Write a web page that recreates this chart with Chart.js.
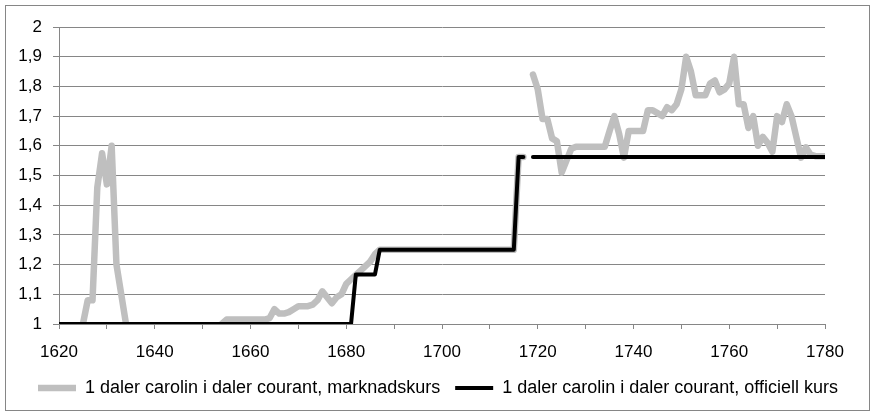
<!DOCTYPE html>
<html>
<head>
<meta charset="utf-8">
<script src="https://cdn.jsdelivr.net/npm/chart.js@4.4.1/dist/chart.umd.min.js"></script>
<style>
html,body{margin:0;padding:0;background:#fff;}
#wrap{position:absolute;left:0;top:0;width:876px;height:416px;}
</style>
</head>
<body>
<div id="wrap"><canvas id="c" width="876" height="416"></canvas></div>
<script>
// ---- DATA ----
const firstYear = 1620, lastYear = 1780;
const years = [];
for (let y = firstYear; y <= lastYear; y++) years.push(y);

const seriesNames = [
  "1 daler carolin i daler courant, marknadskurs",
  "1 daler carolin i daler courant, officiell kurs"
];

// market rate, 1620..1780 (null = no value)
const market = [
  null, null, null, null, null,                          // 1620-1624
  1.00, 1.08, 1.08, 1.46, 1.575, 1.47, 1.60, 1.20, 1.10, 1.00, // 1625-1634
  null, null, null, null, null, null, null, null, null, null,  // 1635-1644
  null, null, null, null, null, null, null, null, null,        // 1645-1653
  1.00,                                                   // 1654
  1.015, 1.015, 1.015, 1.015, 1.015, 1.015, 1.015, 1.015, 1.015, // 1655-1663
  1.02, 1.05, 1.035, 1.035, 1.04, 1.05, 1.06, 1.06, 1.06, 1.065, // 1664-1673
  1.08, 1.11, 1.09, 1.07, 1.09, 1.10, 1.135, 1.15, 1.165, 1.18,  // 1674-1683
  1.195, 1.21, 1.235,                                     // 1684-1686
  1.25, 1.25, 1.25, 1.25, 1.25, 1.25, 1.25, 1.25, 1.25, 1.25, // 1687-1696
  1.25, 1.25, 1.25, 1.25, 1.25, 1.25, 1.25, 1.25, 1.25, 1.25, // 1697-1706
  1.25, 1.25, 1.25, 1.25, 1.25, 1.25, 1.25, 1.25, 1.25,       // 1707-1715
  1.5625, 1.5625,                                         // 1716-1717
  null,                                                   // 1718
  1.84, 1.79, 1.69, 1.69, 1.625, 1.615, 1.51, 1.55, 1.59, 1.597, // 1719-1728
  1.597, 1.597, 1.597, 1.597, 1.597, 1.597, 1.65, 1.70, 1.64, 1.56, // 1729-1738
  1.65, 1.65, 1.65, 1.65, 1.72, 1.72, 1.71, 1.70, 1.73, 1.72, // 1739-1748
  1.74, 1.79, 1.90, 1.85, 1.77, 1.77, 1.77, 1.81, 1.82, 1.78, // 1749-1758
  1.79, 1.81, 1.90, 1.74, 1.74, 1.66, 1.70, 1.60, 1.63, 1.61, // 1759-1768
  1.58, 1.70, 1.68, 1.74, 1.70, 1.63, 1.56, 1.595, 1.57, 1.565, // 1769-1778
  1.565, 1.565                                            // 1779-1780
];

// official rate, 1620..1780
const official = [
  1, 1, 1, 1, 1, 1, 1, 1, 1, 1,   // 1620-1629
  1, 1, 1, 1, 1, 1, 1, 1, 1, 1,   // 1630-1639
  1, 1, 1, 1, 1, 1, 1, 1, 1, 1,   // 1640-1649
  1, 1, 1, 1, 1, 1, 1, 1, 1, 1,   // 1650-1659
  1, 1, 1, 1, 1, 1, 1, 1, 1, 1,   // 1660-1669
  1, 1, 1, 1, 1, 1, 1, 1, 1, 1,   // 1670-1679
  1, 1,                           // 1680-1681
  1.1667, 1.1667, 1.1667, 1.1667, 1.1667, // 1682-1686
  1.25, 1.25, 1.25, 1.25, 1.25, 1.25, 1.25, 1.25, 1.25, 1.25, // 1687-1696
  1.25, 1.25, 1.25, 1.25, 1.25, 1.25, 1.25, 1.25, 1.25, 1.25, // 1697-1706
  1.25, 1.25, 1.25, 1.25, 1.25, 1.25, 1.25, 1.25, 1.25,       // 1707-1715
  1.5625, 1.5625,                 // 1716-1717
  null,                           // 1718
  1.5625, 1.5625, 1.5625, 1.5625, 1.5625, 1.5625, 1.5625, 1.5625, 1.5625, 1.5625, // 1719-1728
  1.5625, 1.5625, 1.5625, 1.5625, 1.5625, 1.5625, 1.5625, 1.5625, 1.5625, 1.5625, // 1729-1738
  1.5625, 1.5625, 1.5625, 1.5625, 1.5625, 1.5625, 1.5625, 1.5625, 1.5625, 1.5625, // 1739-1748
  1.5625, 1.5625, 1.5625, 1.5625, 1.5625, 1.5625, 1.5625, 1.5625, 1.5625, 1.5625, // 1749-1758
  1.5625, 1.5625, 1.5625, 1.5625, 1.5625, 1.5625, 1.5625, 1.5625, 1.5625, 1.5625, // 1759-1768
  1.5625, 1.5625, 1.5625, 1.5625, 1.5625, 1.5625, 1.5625, 1.5625, 1.5625, 1.5625, // 1769-1778
  1.5625, 1.5625                  // 1779-1780
];

const yMin = 1, yMax = 2, yStep = 0.1;
const xStep = 10, xLabelEvery = 20;

// ---- CHART ----
const FONT = "'Liberation Sans', Arial, sans-serif";
const GRID = '#868686';
Chart.defaults.font.family = FONT;
Chart.defaults.color = '#000';

const toPts = arr => years.map((yr, i) => ({x: yr, y: arr[i]}));

const frame = {
  id: 'frame',
  beforeDraw(chart) {
    const ctx = chart.ctx;
    ctx.save();
    ctx.fillStyle = '#fff';
    ctx.fillRect(0, 0, chart.width, chart.height);
    ctx.strokeStyle = GRID;
    ctx.lineWidth = 1;
    ctx.strokeRect(5.5, 5.5, 864, 405);
    ctx.restore();
  }
};

new Chart(document.getElementById('c'), {
  type: 'line',
  data: {
    datasets: [
      {
        label: seriesNames[1],
        data: toPts(official),
        borderColor: '#000',
        backgroundColor: '#000',
        borderWidth: 4,
        pointRadius: 0,
        borderCapStyle: 'round',
        borderJoinStyle: 'round',
        spanGaps: false,
        tension: 0
      },
      {
        label: seriesNames[0],
        data: toPts(market),
        borderColor: '#bfbfbf',
        backgroundColor: '#bfbfbf',
        borderWidth: 6.5,
        pointRadius: 0,
        borderCapStyle: 'round',
        borderJoinStyle: 'round',
        spanGaps: false,
        tension: 0
      }
    ]
  },
  options: {
    responsive: false,
    animation: false,
    layout: {padding: {left: 0, right: 0, top: 27, bottom: 9}},
    plugins: {
      tooltip: {enabled: false},
      legend: {
        position: 'bottom',
        labels: {
          usePointStyle: true,
          pointStyle: 'line',
          pointStyleWidth: 38,
          padding: 15,
          font: {size: 18, family: FONT},
          color: '#000',
          sort: (a, b) => b.datasetIndex - a.datasetIndex
        }
      }
    },
    scales: {
      x: {
        type: 'linear',
        min: firstYear,
        max: lastYear,
        afterFit(s) { s.height = 40; },
        ticks: {
          stepSize: xStep,
          autoSkip: false,
          maxRotation: 0,
          padding: 13,
          font: {size: 17, family: FONT},
          color: '#000',
          callback: v => (v % xLabelEvery === 0 ? String(v) : '')
        },
        grid: {
          drawOnChartArea: false,
          drawTicks: true,
          tickLength: 5,
          color: GRID
        },
        border: {display: true, color: GRID, width: 1}
      },
      y: {
        type: 'linear',
        position: 'left',
        min: yMin,
        max: yMax,
        afterFit(s) { s.width = 59; },
        ticks: {
          stepSize: yStep,
          padding: 11,
          font: {size: 17, family: FONT},
          color: '#000',
          callback: v => {
            const r = Math.round(v * 10) / 10;
            return (Number.isInteger(r) ? String(r) : r.toFixed(1)).replace('.', ',');
          }
        },
        grid: {
          drawOnChartArea: true,
          drawTicks: true,
          tickLength: 6,
          color: GRID
        },
        border: {display: true, color: GRID, width: 1}
      },
      yRight: {
        type: 'linear',
        position: 'right',
        display: true,
        afterFit(s) { s.width = 51; },
        ticks: {display: false},
        grid: {display: false, drawTicks: false},
        border: {display: false}
      }
    }
  },
  plugins: [frame]
});
</script>
</body>
</html>
